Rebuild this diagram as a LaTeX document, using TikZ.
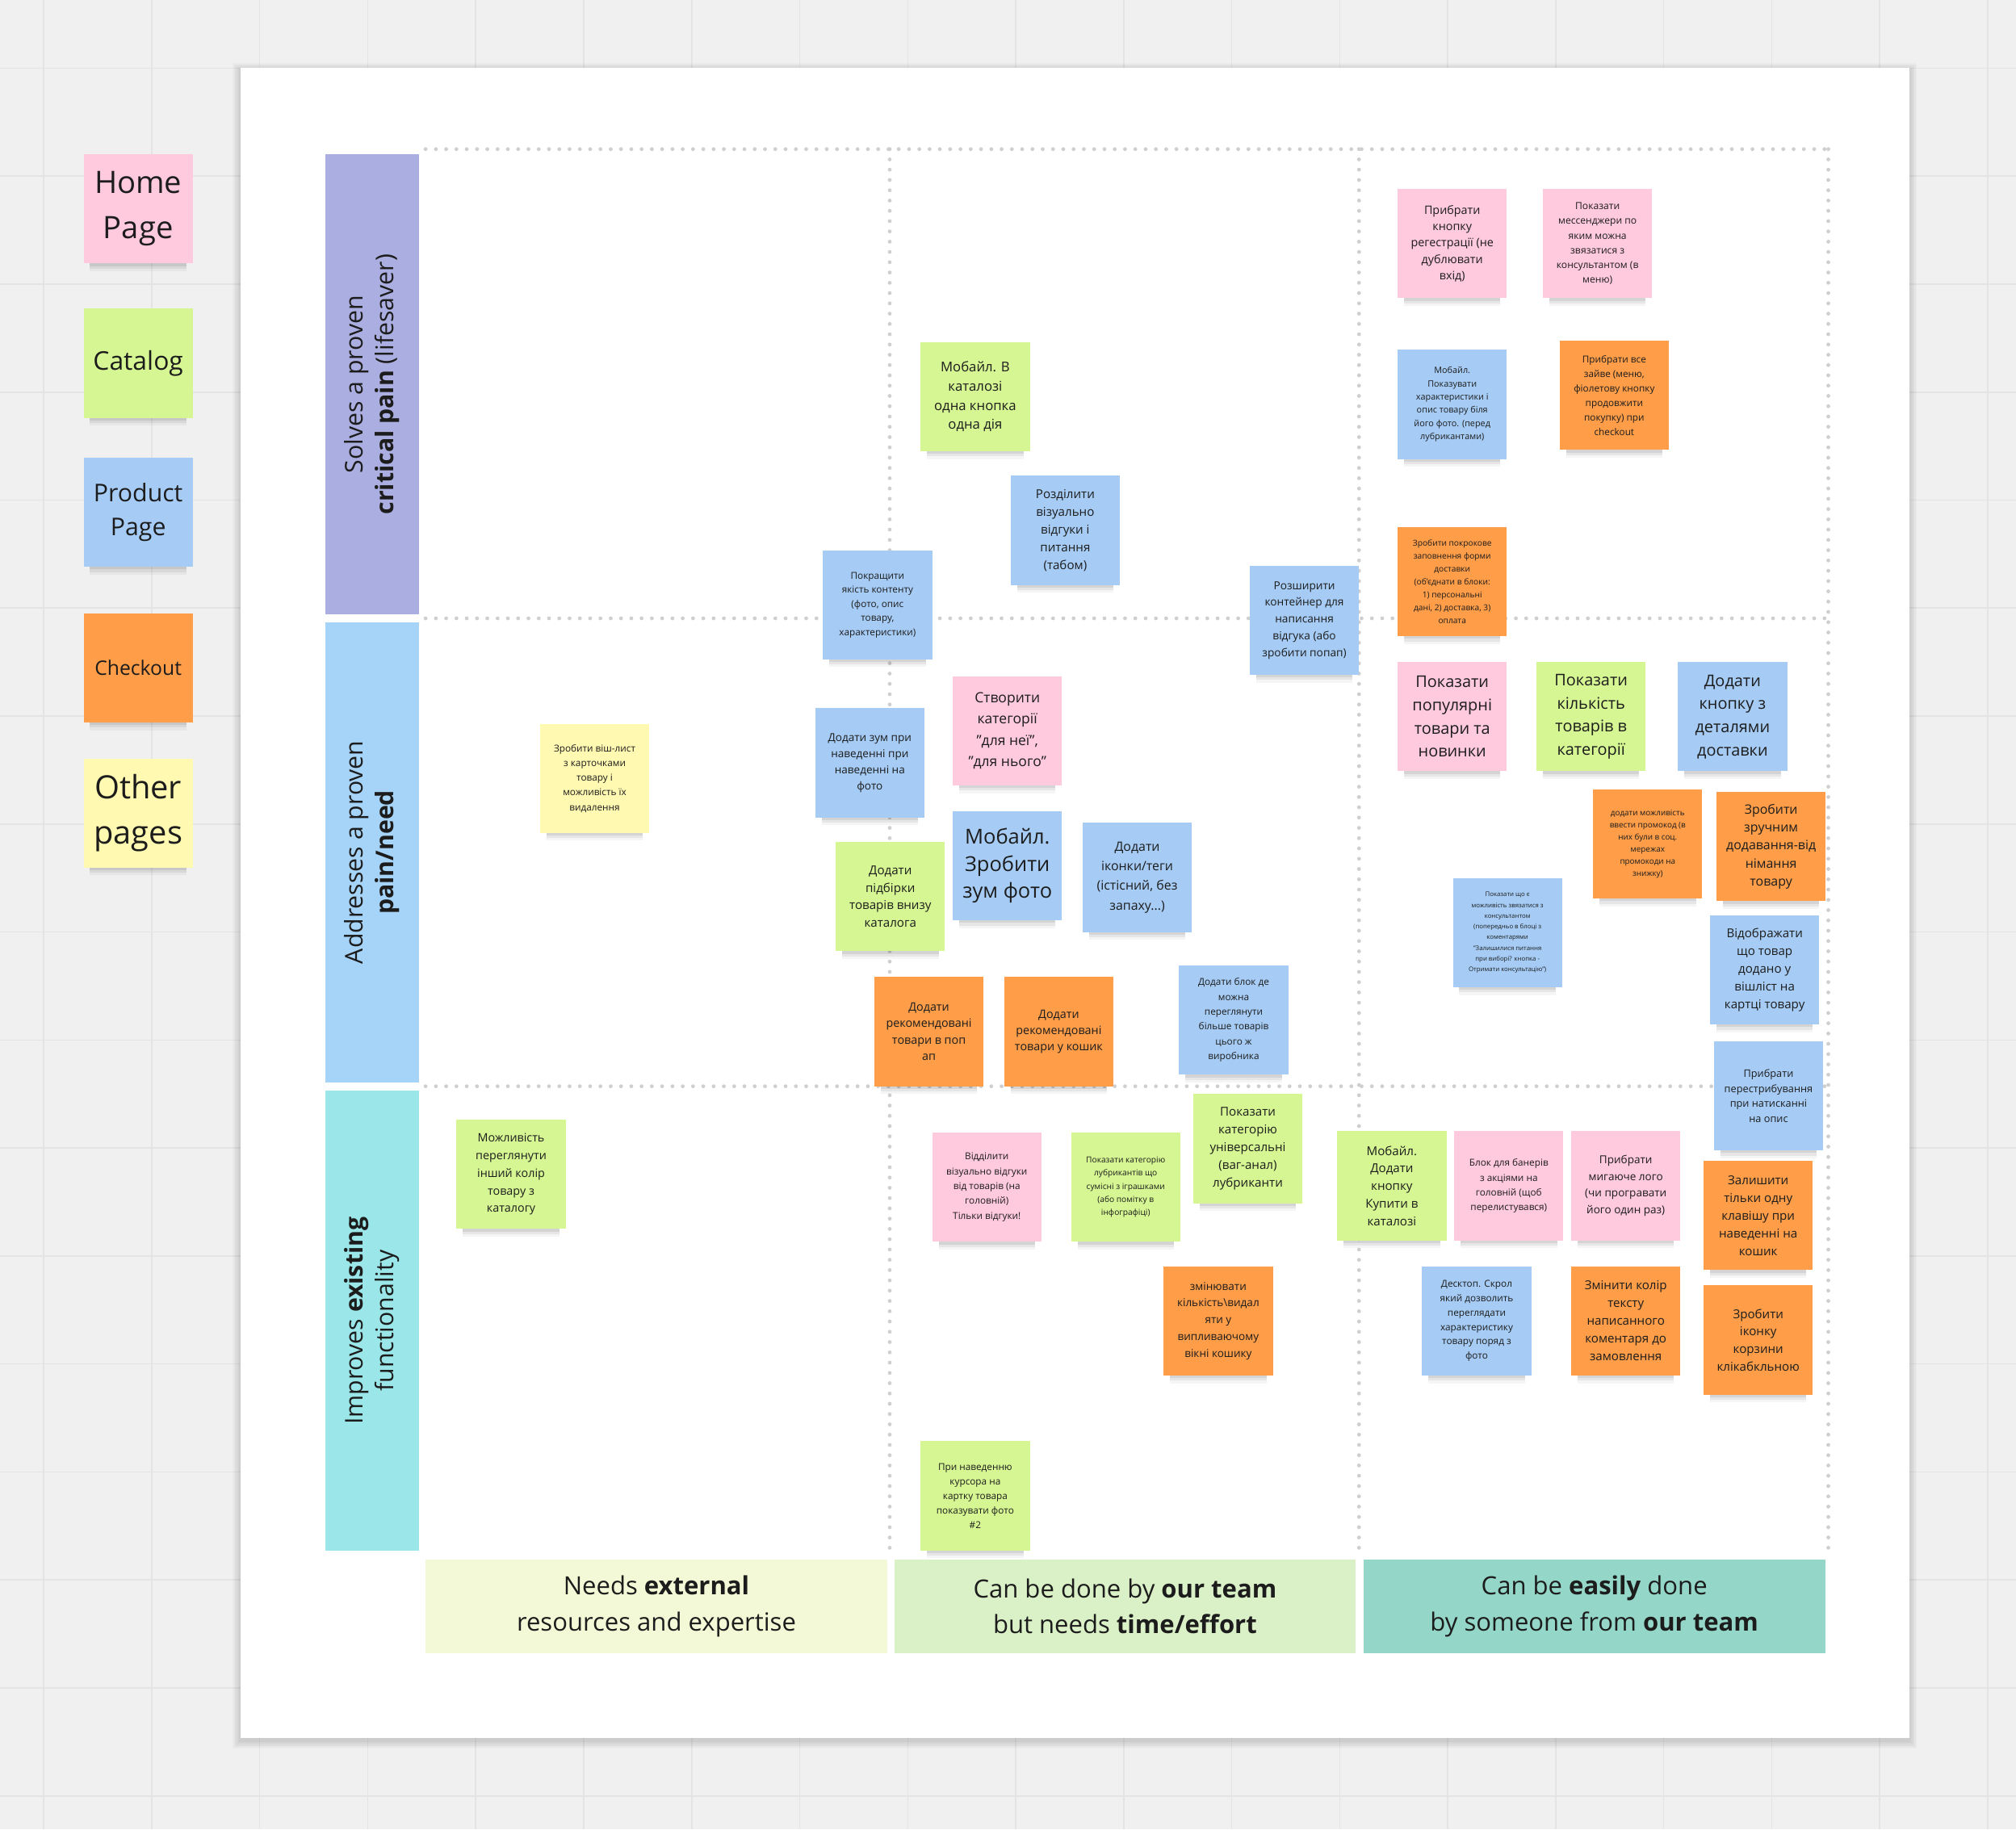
\documentclass[tikz,border=0pt]{standalone}
\usepackage{fontspec}
\setmainfont{Open Sans}
\definecolor{bgc}{HTML}{F0F0F0}
\definecolor{gridc}{HTML}{E4E4E4}
\definecolor{dotc}{HTML}{CFCFCF}
\definecolor{txt}{HTML}{1C1C1C}
\definecolor{npink}{HTML}{FFC9DE}
\definecolor{ngreen}{HTML}{D5F692}
\definecolor{nblue}{HTML}{A6CCF5}
\definecolor{norange}{HTML}{FF9D48}
\definecolor{nyellow}{HTML}{FFF9B1}
\definecolor{rowA}{HTML}{ABAEE0}
\definecolor{rowB}{HTML}{A6D3F8}
\definecolor{rowC}{HTML}{9AE6E8}
\definecolor{colA}{HTML}{F3F9D6}
\definecolor{colB}{HTML}{DAF0C6}
\definecolor{colC}{HTML}{94D7C8}
\tikzset{
  note/.style={minimum width=85pt, minimum height=85pt, inner sep=1pt, align=center, text=txt},
  rowlabel/.style={rotate=90, minimum width=358pt, minimum height=73pt, inner sep=0pt, align=center, text=txt, font=\fontsize{19}{24}\selectfont},
  collabel/.style={minimum width=359pt, minimum height=73pt, inner sep=0pt, align=center, text=txt, font=\fontsize{19.5}{28}\selectfont},
  dotline/.style={draw=dotc, line width=3pt, line cap=round, dash pattern=on 0pt off 8pt}
}
\newcommand{\stickynote}[7]{%
  \foreach \dd/\oo in {1/0.10,3/0.08,5/0.06,7/0.04}{\fill[black,opacity=\oo] ({#2+5},{#3+40}) rectangle ({#2+80},{#3+84+\dd});}
  \node[note, fill=#4, font=\fontsize{#5}{#6}\selectfont] (#1) at ({#2+42.5},{#3+42.5}) {#7};
}
\begin{document}
\begin{tikzpicture}[x=1pt,y=-1pt]
\useasboundingbox (0,0) rectangle (1568,1423);
\fill[bgc] (0,0) rectangle (1568,1423);
\foreach \gx in {34,118,...,1568} \draw[gridc, line width=1pt] (\gx,0) -- (\gx,1423);
\foreach \gy in {53,137,...,1423} \draw[gridc, line width=1pt] (0,\gy) -- (1568,\gy);
% whiteboard
\foreach \dd in {1,2,...,6} \fill[black,opacity=0.025] ({187-\dd},{53-\dd+2}) rectangle ({1485+\dd},{1352+\dd+2});
\fill[white] (187,53) rectangle (1485,1352);
% dotted grid
\draw[dotline] (331,116) -- (1422,116);
\draw[dotline] (1422,116) -- (1422,1207);
\draw[dotline] (692,116) -- (692,1207);
\draw[dotline] (1057,116) -- (1057,1207);
\draw[dotline] (331,481) -- (1422,481);
\draw[dotline] (331,845) -- (1422,845);
% row labels
\node[rowlabel, fill=rowA] (rA) at (289.5,299) {Solves a proven\\\textbf{critical pain} (lifesaver)};
\node[rowlabel, fill=rowB] (rB) at (289.5,663) {Addresses a proven\\\textbf{pain/need}};
\node[rowlabel, fill=rowC] (rC) at (289.5,1027.5) {Improves \textbf{existing}\\functionality};
% column labels
\node[collabel, fill=colA] (cA) at (510.5,1249.5) {Needs \textbf{external}\\resources and expertise};
\node[collabel, fill=colB] (cB) at (875,1249.5) {Can be done by \textbf{our team}\\but needs \textbf{time/effort}};
\node[collabel, fill=colC] (cC) at (1240,1249.5) {Can be \textbf{easily} done\\by someone from \textbf{our team}};
% legend
\stickynote{home}{65}{120}{npink}{24}{35}{Home\\Page}
\stickynote{catalog}{65}{240}{ngreen}{20}{28}{Catalog}
\stickynote{product}{65}{356}{nblue}{19}{26}{Product\\Page}
\stickynote{checkout}{65}{477}{norange}{15.5}{20}{Checkout}
\stickynote{other}{65}{590}{nyellow}{25}{35}{Other\\pages}
% notes
\stickynote{n1}{1087}{147}{npink}{9}{12.8}{Прибрати\\кнопку\\регестрації (не\\дублювати\\вхід)}
\stickynote{n2}{1200}{147}{npink}{7.6}{11.4}{Показати\\мессенджери по\\яким можна\\звязатися з\\консультантом (в\\меню)}
\stickynote{n3}{1087}{272}{nblue}{6.8}{10.3}{Мобайл.\\Показувати\\характеристики і\\опис товару біля\\його фото. (перед\\лубрикантами)}
\stickynote{n4}{1213}{265}{norange}{7.4}{11.3}{Прибрати все\\зайве (меню,\\фіолетову кнопку\\продовжити\\покупку) при\\checkout}
\stickynote{n5}{1087}{410}{norange}{6.4}{10}{Зробити покрокове\\заповнення форми\\доставки\\(об'єднати в блоки:\\1) персональні\\дані, 2) доставка, 3)\\оплата}
\stickynote{n6}{972}{440}{nblue}{8.6}{13}{Розширити\\контейнер для\\написання\\відгука (або\\зробити попап)}
\stickynote{n7}{716}{266}{ngreen}{10.5}{15}{Мобайл. В\\каталозі\\одна кнопка\\одна дія}
\stickynote{n8}{786}{370}{nblue}{9.5}{13.8}{Розділити\\візуально\\відгуки і\\питання\\(табом)}
\stickynote{n9}{640}{428}{nblue}{7.4}{11}{Покращити\\якість контенту\\(фото, опис\\товару,\\характеристики)}
\stickynote{n10}{1087}{515}{npink}{12.5}{18}{Показати\\популярні\\товари та\\новинки}
\stickynote{n11}{1195}{515}{ngreen}{12.5}{18}{Показати\\кількість\\товарів в\\категорії}
\stickynote{n12}{1305}{515}{nblue}{12.5}{18}{Додати\\кнопку з\\деталями\\доставки}
\stickynote{n13}{1239}{614}{norange}{6.2}{9.4}{додати можливість\\ввести промокод (в\\них були в соц.\\мережах\\промокоди на\\знижку)}
\stickynote{n14}{1335}{616}{norange}{10}{14}{Зробити\\зручним\\додавання-від\\німання\\товару}
\stickynote{n15}{1130}{683}{nblue}{4.9}{8.3}{Показати що є\\можливість звязатися з\\консультантом\\(попередньо в блоці з\\коментарями\\"Залишилися питання\\при виборі? кнопка -\\Отримати консультацію")}
\stickynote{n16}{1330}{712}{nblue}{9.5}{13.8}{Відображати\\що товар\\додано у\\вішліст на\\картці товару}
\stickynote{n17}{1333}{810}{nblue}{8}{11.7}{Прибрати\\перестрибування\\при натисканні\\на опис}
\stickynote{n18}{741}{526}{npink}{11}{16.7}{Створити\\категорії\\"для неї",\\"для нього"}
\stickynote{n19}{634}{551}{nblue}{8.5}{12.7}{Додати зум при\\наведенні при\\наведенні на\\фото}
\stickynote{n20}{741}{631}{nblue}{16}{21}{Мобайл.\\Зробити\\зум фото}
\stickynote{n21}{842}{640}{nblue}{10}{15.3}{Додати\\іконки/теги\\(істісний, без\\запаху...)}
\stickynote{n22}{650}{655}{ngreen}{9.5}{13.7}{Додати\\підбірки\\товарів внизу\\каталога}
\stickynote{n23}{680}{760}{norange}{9}{12.7}{Додати\\рекомендовані\\товари в поп\\ап}
\stickynote{n24}{781}{760}{norange}{9}{12.7}{Додати\\рекомендовані\\товари у кошик}
\stickynote{n25}{917}{751}{nblue}{7.4}{11.6}{Додати блок де\\можна\\переглянути\\більше товарів\\цього ж\\виробника}
\stickynote{n26}{420}{563}{nyellow}{7.4}{11.5}{Зробити віш-лист\\з карточками\\товару і\\можливість їх\\видалення}
\stickynote{n27}{355}{871}{ngreen}{9}{13.7}{Можливість\\переглянути\\інший колір\\товару з\\каталогу}
\stickynote{n28}{725}{881}{npink}{7.4}{11.5}{Відділити\\візуально відгуки\\від товарів (на\\головній)\\Тільки відгуки!}
\stickynote{n29}{833}{881}{ngreen}{6.4}{10.3}{Показати категорію\\лубрикантів що\\сумісні з іграшками\\(або помітку в\\інфографіці)}
\stickynote{n30}{928}{851}{ngreen}{9.5}{13.8}{Показати\\категорію\\універсальні\\(ваг-анал)\\лубриканти}
\stickynote{n31}{905}{985}{norange}{8.5}{13}{змінювати\\кількість\textbackslash видал\\яти у\\випливаючому\\вікні кошику}
\stickynote{n32}{716}{1121}{ngreen}{7.4}{11.3}{При наведенню\\курсора на\\картку товара\\показувати фото\\\#2}
\stickynote{n33}{1040}{880}{ngreen}{9.5}{13.7}{Мобайл.\\Додати\\кнопку\\Купити в\\каталозі}
\stickynote{n34}{1131}{880}{npink}{7.4}{11.5}{Блок для банерів\\з акціями на\\головній (щоб\\перелистувався)}
\stickynote{n35}{1222}{880}{npink}{8.5}{13}{Прибрати\\мигаюче лого\\(чи програвати\\його один раз)}
\stickynote{n36}{1325}{903}{norange}{9.5}{13.8}{Залишити\\тільки одну\\клавішу при\\наведенні на\\кошик}
\stickynote{n37}{1106}{985}{nblue}{7.4}{11.2}{Десктоп. Скрол\\який дозволить\\переглядати\\характеристику\\товару поряд з\\фото}
\stickynote{n38}{1222}{985}{norange}{9.5}{13.8}{Змінити колір\\тексту\\написанного\\коментаря до\\замовлення}
\stickynote{n39}{1325}{1000}{norange}{9.5}{13.7}{Зробити\\іконку\\корзини\\клікабкльною}
\end{tikzpicture}
\end{document}
